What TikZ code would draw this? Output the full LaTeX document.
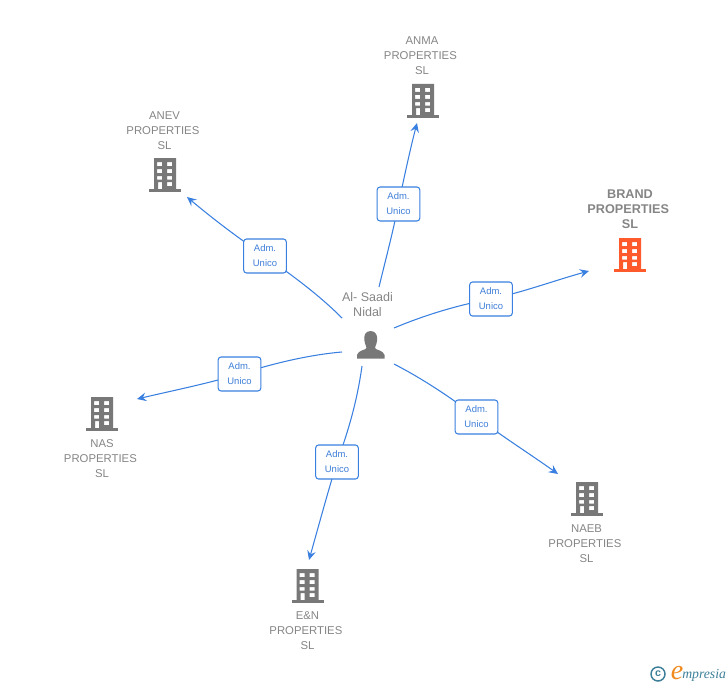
\documentclass[tikz,border=0pt]{standalone}
\usepackage{fontspec}
\setmainfont{Liberation Sans}
\newfontfamily\logofont{Liberation Serif}
\usetikzlibrary{arrows.meta}
\definecolor{linkblue}{HTML}{3A80E0}
\definecolor{boxtext}{HTML}{3F7FD8}
\definecolor{graytext}{HTML}{858585}
\definecolor{icongray}{HTML}{787878}
\definecolor{brandred}{HTML}{FF5A2B}
\definecolor{logoteal}{HTML}{3D7F99}
\definecolor{logoorange}{HTML}{F08A1E}
\newcommand{\propline}{PROPERTIES\rule{0.28em}{0pt}}
\tikzset{
  x=0.75pt,y=-0.75pt,
  rolebox/.style={draw=linkblue,line width=0.8pt,rounded corners=2.2pt,fill=white,minimum width=32pt,minimum height=25.5pt,inner sep=0pt,align=center,text=boxtext,font=\fontsize{7.1}{11.2}\selectfont},
  link/.style={draw=linkblue,line width=0.8pt},
  linkarrow/.style={link,-{Stealth[length=7pt,width=6.5pt,inset=2.6pt]}},
  entity/.style={align=center,text=graytext,inner sep=0pt,font=\fontsize{8.5}{11.2}\selectfont},
  personname/.style={align=center,text=graytext,inner sep=0pt,font=\fontsize{9.4}{11.4}\selectfont},
  brandtext/.style={align=center,text=graytext,inner sep=0pt,font=\fontsize{9.5}{11.2}\selectfont\bfseries},
  pics/tower/.style={code={
    \fill[#1,even odd rule] (-11,-34) rectangle (11,-3)
      (-8,-30) rectangle (-3,-26) (2,-30) rectangle (7,-26)
      (-8,-23) rectangle (-3,-19) (2,-23) rectangle (7,-19)
      (-8,-16) rectangle (-3,-12.5) (2,-16) rectangle (7,-12.5)
      (-7,-10) rectangle (-3,-3) (2,-10) rectangle (7,-6);
    \fill[#1] (-16,-3) rectangle (16,0);
  }}
}
\begin{document}
\begin{tikzpicture}
\useasboundingbox (0,0) rectangle (728,685);
% person
\node[personname] (person) at (367.5,304.5) {Al- Saadi\\Nidal};
\fill[icongray] (370.5,331) .. controls (365,331) and (363.5,336) .. (364.5,341)
  .. controls (365,345) and (366.5,346) .. (366.5,348)
  .. controls (366.5,350) and (358,350) .. (357,355)
  -- (357,358.5) -- (384.5,358.5) -- (384.5,355)
  .. controls (383.5,350) and (375,350) .. (375,348)
  .. controls (375,346) and (376.5,345) .. (377,341)
  .. controls (378,336) and (376,331) .. (370.5,331) -- cycle;
% buildings
\pic at (423,118) {tower=icongray};
\pic at (165,192) {tower=icongray};
\pic at (630,272) {tower=brandred};
\pic at (102,431) {tower=icongray};
\pic at (587,516) {tower=icongray};
\pic at (307.5,603) {tower=icongray};
% labels
\node[entity] (anma) at (422,56) {ANMA\\\propline\\SL};
\node[entity] (anev) at (164.5,130.5) {ANEV\\\propline\\SL};
\node[brandtext] (brand) at (630,209) {BRAND\\\propline\\SL};
\node[entity] (nas) at (102,458.5) {NAS\\\propline\\SL};
\node[entity] (naeb) at (586.5,543.5) {NAEB\\\propline\\SL};
\node[entity] (en) at (307.5,630.5) {E\&N\\\propline\\SL};
% connector ends
\coordinate (s1) at (379,287); \coordinate (e1) at (417,123);
\coordinate (s2) at (342,318); \coordinate (e2) at (187,197);
\coordinate (s3) at (394,328); \coordinate (e3) at (589,271);
\coordinate (s4) at (394,364); \coordinate (e4) at (558,474);
\coordinate (s5) at (362,366); \coordinate (e5) at (309,560);
\coordinate (s6) at (342,352); \coordinate (e6) at (137,399);
% role boxes
\coordinate (c1) at (398.5,204); \coordinate (c2) at (265,256);
\coordinate (c3) at (491,299); \coordinate (c4) at (476.5,417);
\coordinate (c5) at (337,462); \coordinate (c6) at (239.5,374);
\draw[link] (s1) .. controls (386,258) and (393,232) .. (c1);
\draw[linkarrow] (c1) .. controls (404,178) and (410,150) .. (e1);
\draw[link] (s2) .. controls (317,293) and (290,274) .. (c2);
\draw[linkarrow] (c2) .. controls (238,238) and (212,218) .. (e2);
\draw[link] (s3) .. controls (425,315) and (458,305) .. (c3);
\draw[linkarrow] (c3) .. controls (524,292) and (556,280) .. (e3);
\draw[link] (s4) .. controls (423,379) and (450,397) .. (c4);
\draw[linkarrow] (c4) .. controls (503,437) and (530,454) .. (e4);
\draw[link] (s5) .. controls (357,402) and (348,432) .. (c5);
\draw[linkarrow] (c5) .. controls (327,495) and (318,528) .. (e5);
\draw[link] (s6) .. controls (307,355) and (272,364) .. (c6);
\draw[linkarrow] (c6) .. controls (206,384) and (171,391) .. (e6);
\node[rolebox] (b1) at (c1) {Adm.\\Unico};
\node[rolebox] (b2) at (c2) {Adm.\\Unico};
\node[rolebox] (b3) at (c3) {Adm.\\Unico};
\node[rolebox] (b4) at (c4) {Adm.\\Unico};
\node[rolebox] (b5) at (c5) {Adm.\\Unico};
\node[rolebox] (b6) at (c6) {Adm.\\Unico};
% logo
\node[draw=logoteal,line width=1.1pt,circle,minimum size=10.5pt,inner sep=0pt,text=logoteal,font=\fontsize{8}{8}\selectfont\bfseries] (copy) at (658,674) {c};
\node[inner sep=0pt,text=logoorange,font=\logofont\itshape\fontsize{21}{21}\selectfont] (logoe) at (677,673) {e};
\node[inner sep=0pt,anchor=west,text=logoteal,font=\logofont\itshape\fontsize{10.3}{10}\selectfont] (logot) at (682,675.5) {mpresia};
\end{tikzpicture}
\end{document}
